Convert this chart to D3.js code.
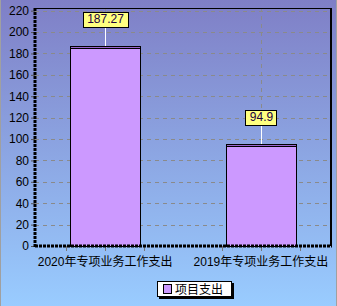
<!DOCTYPE html>
<html>
<head>
<meta charset="utf-8">
<script src="https://cdn.jsdelivr.net/npm/d3@7"></script>
<style>
  html, body { margin: 0; padding: 0; }
  text { font-family: "Liberation Sans", Arial, "Noto Sans CJK SC", sans-serif; }
</style>
</head>
<body>
<div id="chart"></div>
<script>
const categories = ["2020年专项业务工作支出", "2019年专项业务工作支出"];
const values = [187.27, 94.9];
const valueLabels = ["187.27", "94.9"];
const yTicks = [0, 20, 40, 60, 80, 100, 120, 140, 160, 180, 200, 220];
const seriesName = "项目支出";

const width = 337, height = 306;
const margin = { top: 8, right: 6, bottom: 60, left: 35 };
const plotBottom = height - margin.bottom;
const plotRight = width - margin.right;

const svg = d3.select("#chart").append("svg")
    .attr("width", width)
    .attr("height", height);

// background gradient
const grad = svg.append("defs").append("linearGradient")
    .attr("id", "bg").attr("x1", 0).attr("y1", 0).attr("x2", 0).attr("y2", 1);
grad.append("stop").attr("offset", "0%").attr("stop-color", "#7f7fc6");
grad.append("stop").attr("offset", "100%").attr("stop-color", "#99ccff");

svg.append("rect")
    .attr("width", width).attr("height", height)
    .attr("fill", "url(#bg)");
svg.append("rect")
    .attr("x", 0.5).attr("y", -1).attr("width", width - 1).attr("height", height + 2)
    .attr("fill", "none").attr("stroke", "#a0a0a0");

const x = d3.scalePoint()
    .domain(categories)
    .range([margin.left, plotRight])
    .padding(0.45);
const step = x.step();
const barW = step * 0.45;

const y = d3.scaleLinear()
    .domain([0, 222.5])
    .range([plotBottom, margin.top]);

// horizontal grid
svg.append("g")
    .selectAll("line")
    .data(yTicks.slice(1))
    .join("line")
    .attr("x1", margin.left).attr("x2", plotRight)
    .attr("y1", d => Math.round(y(d)) + 0.5).attr("y2", d => Math.round(y(d)) + 0.5)
    .attr("stroke", "#8a8a8a")
    .attr("stroke-dasharray", "4,4");

// vertical grid at categories
svg.append("g")
    .selectAll("line")
    .data(categories)
    .join("line")
    .attr("x1", d => Math.round(x(d)) + 0.5).attr("x2", d => Math.round(x(d)) + 0.5)
    .attr("y1", margin.top).attr("y2", plotBottom)
    .attr("stroke", "#8a8a8a")
    .attr("stroke-dasharray", "4,4");

// plot border top/right
svg.append("line")
    .attr("x1", margin.left).attr("x2", plotRight + 1)
    .attr("y1", margin.top + 0.5).attr("y2", margin.top + 0.5)
    .attr("stroke", "#000");
svg.append("line")
    .attr("x1", plotRight).attr("x2", plotRight)
    .attr("y1", margin.top).attr("y2", plotBottom)
    .attr("stroke", "#000").attr("stroke-width", 2);

// bars
const bars = svg.append("g")
    .selectAll("g")
    .data(values)
    .join("g");

bars.append("rect")
    .attr("x", (d, i) => Math.round(x(categories[i]) - barW / 2) + 0.5)
    .attr("y", d => Math.round(y(d)) + 0.5)
    .attr("width", Math.round(barW))
    .attr("height", d => Math.round(y(0)) - Math.round(y(d)))
    .attr("fill", "#cc99ff")
    .attr("stroke", "#000");

bars.append("rect")
    .attr("x", (d, i) => Math.round(x(categories[i]) - barW / 2) + 0.5)
    .attr("y", d => Math.round(y(d)) + 0.5)
    .attr("width", Math.round(barW))
    .attr("height", 2)
    .attr("fill", "#9966cc")
    .attr("stroke", "#000");

// y axis
const yAxis = svg.append("g")
    .attr("transform", `translate(${margin.left},0)`)
    .call(d3.axisLeft(y).tickValues(yTicks).tickSize(4).tickPadding(2));
yAxis.select(".domain").remove();
yAxis.selectAll(".tick line").attr("stroke", "#555");
yAxis.selectAll(".tick text")
    .attr("fill", "#000")
    .style("font-size", "12px");

svg.append("line")
    .attr("x1", margin.left).attr("x2", margin.left)
    .attr("y1", margin.top).attr("y2", plotBottom + 1)
    .attr("stroke", "#000").attr("stroke-width", 3)
    .attr("stroke-dasharray", "3,1");

// x axis ticks (center and quarter steps)
const xTicks = [];
categories.forEach(c => { xTicks.push(x(c) - step / 4, x(c), x(c) + step / 4); });
svg.append("g")
    .selectAll("line")
    .data(xTicks)
    .join("line")
    .attr("x1", d => Math.round(d) + 0.5).attr("x2", d => Math.round(d) + 0.5)
    .attr("y1", plotBottom).attr("y2", plotBottom + 5)
    .attr("stroke", "#777");

svg.append("line")
    .attr("x1", margin.left).attr("x2", plotRight + 1)
    .attr("y1", plotBottom).attr("y2", plotBottom)
    .attr("stroke", "#000").attr("stroke-width", 3)
    .attr("stroke-dasharray", "3,1");

svg.append("g")
    .selectAll("text")
    .data(categories)
    .join("text")
    .attr("x", d => x(d))
    .attr("y", plotBottom + 20)
    .attr("text-anchor", "middle")
    .style("font-size", "12px")
    .text(d => d);

// value labels
const labels = svg.append("g")
    .selectAll("g")
    .data(values)
    .join("g")
    .attr("transform", (d, i) => `translate(${Math.round(x(categories[i]))},${Math.round(y(d))})`);

labels.append("line")
    .attr("x1", 0.5).attr("x2", 0.5)
    .attr("y1", -19).attr("y2", 0)
    .attr("stroke", "#fff");

labels.each(function (d, i) {
    const g = d3.select(this);
    const t = g.append("text")
        .attr("x", 0.5).attr("y", -23)
        .attr("text-anchor", "middle")
        .style("font-size", "12px")
        .attr("fill", "#200040")
        .text(valueLabels[i]);
    const w = t.node().getComputedTextLength() + 8;
    g.insert("rect", "text")
        .attr("x", Math.round(-w / 2) + 0.5)
        .attr("y", -33.5)
        .attr("width", Math.round(w))
        .attr("height", 15)
        .attr("fill", "#ffff80")
        .attr("stroke", "#000");
});

// legend
const legend = svg.append("g").attr("transform", "translate(157,281)");
legend.append("rect")
    .attr("x", 2).attr("y", 2).attr("width", 75).attr("height", 16)
    .attr("fill", "#000");
legend.append("rect")
    .attr("x", 0.5).attr("y", 0.5).attr("width", 74).attr("height", 15)
    .attr("fill", "#fff").attr("stroke", "#000");
legend.append("rect")
    .attr("x", 6.5).attr("y", 3.5).attr("width", 8).attr("height", 9)
    .attr("fill", "#cc99ff").attr("stroke", "#000");
legend.append("text")
    .attr("x", 18).attr("y", 13)
    .style("font-size", "12px")
    .text(seriesName);
</script>
</body>
</html>
